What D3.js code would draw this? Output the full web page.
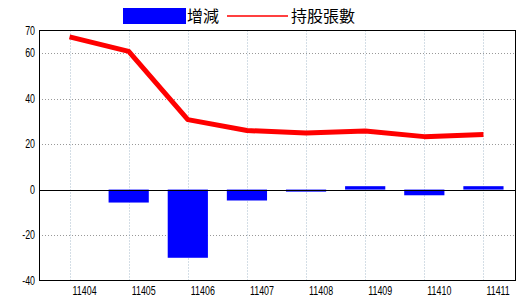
<!DOCTYPE html>
<html>
<head>
<meta charset="utf-8">
<script src="https://cdn.jsdelivr.net/npm/d3@7"></script>
<style>
  body { margin: 0; background: #fff; }
  svg { display: block; }
  .tick-label { font-family: "Liberation Sans", Arial, sans-serif; font-size: 12px; fill: #000; }
  .legend-text { font-family: "Noto Sans CJK TC", "Noto Sans CJK SC", sans-serif; font-size: 16px; fill: #000; }
</style>
</head>
<body>
<svg width="520" height="300"></svg>
<script>
// data
var months = ["11404", "11405", "11406", "11407", "11408", "11409", "11410", "11411"];
var change = [0, -5.7, -30, -4.8, -0.9, 1.5, -2.5, 1.5];      // 增減
var holdings = [67.2, 60.8, 30.8, 26, 24.9, 25.8, 23.3, 24.2]; // 持股張數
var yTicks = [70, 60, 40, 20, 0, -20, -40];

var svg = d3.select("svg");
var plotL = 39, plotR = 515, plotT = 30.5, plotB = 280.5;
var narrow = 0.74; // the original uses a condensed font

var x = d3.scaleBand().domain(months).range([40, 513]).padding(0);
var y = d3.scaleLinear().domain([-40, 70]).range([plotB, plotT]);
var cx = function (d) { return x(d) + x.bandwidth() / 2; };
var barW = x.bandwidth() * 0.68;

// grid
var grid = svg.append("g");
grid.selectAll("line.h")
  .data(yTicks.filter(function (v) { return v !== 0 && v !== 70 && v !== -40; }))
  .enter().append("line")
  .attr("x1", plotL).attr("x2", plotR)
  .attr("y1", function (d) { return Math.round(y(d)) + 0.5; })
  .attr("y2", function (d) { return Math.round(y(d)) + 0.5; })
  .attr("stroke", "#999").attr("stroke-dasharray", "1,2");
grid.selectAll("line.v")
  .data(months)
  .enter().append("line")
  .attr("x1", function (d) { return Math.round(cx(d)) + 0.5; })
  .attr("x2", function (d) { return Math.round(cx(d)) + 0.5; })
  .attr("y1", plotT).attr("y2", plotB)
  .attr("stroke", "#a8bccc").attr("stroke-dasharray", "1,2");

// bars
svg.append("g").selectAll("rect")
  .data(change)
  .enter().append("rect")
  .attr("x", function (d, i) { return cx(months[i]) - barW / 2; })
  .attr("width", barW)
  .attr("y", function (d) { return y(Math.max(0, d)); })
  .attr("height", function (d) { return Math.abs(y(d) - y(0)); })
  .attr("fill", "#0000ff");

// zero line
svg.append("line")
  .attr("x1", plotL).attr("x2", plotR)
  .attr("y1", Math.round(y(0)) + 0.5).attr("y2", Math.round(y(0)) + 0.5)
  .attr("stroke", "#000");

// holdings line
var line = d3.line()
  .x(function (d, i) { return cx(months[i]); })
  .y(function (d) { return y(d); });
svg.append("path")
  .datum(holdings)
  .attr("d", line)
  .attr("fill", "none")
  .attr("stroke", "#ff0000")
  .attr("stroke-width", 5)
  .attr("stroke-linejoin", "round");

// frame
svg.append("rect")
  .attr("x", plotL + 0.5).attr("y", Math.round(plotT) - 0.5)
  .attr("width", plotR - plotL).attr("height", Math.round(plotB) - Math.round(plotT))
  .attr("fill", "none").attr("stroke", "#000");

// y labels
svg.append("g").selectAll("text")
  .data(yTicks)
  .enter().append("text")
  .attr("class", "tick-label")
  .attr("transform", function (d) { return "translate(35," + (y(d) + 4) + ") scale(" + narrow + ",1)"; })
  .attr("text-anchor", "end")
  .text(function (d) { return d; });

// x labels
svg.append("g").selectAll("text")
  .data(months)
  .enter().append("text")
  .attr("class", "tick-label")
  .attr("transform", function (d) { return "translate(" + (cx(d) + 3) + ",294.5) scale(" + narrow + ",1)"; })
  .text(function (d) { return d; });

// legend
var lg = svg.append("g");
lg.append("rect").attr("x", 123).attr("y", 8).attr("width", 63).attr("height", 16).attr("fill", "#0000ff");
lg.append("text").attr("class", "legend-text").attr("x", 187).attr("y", 22).text("增減");
lg.append("line").attr("x1", 227).attr("x2", 288).attr("y1", 16).attr("y2", 16)
  .attr("stroke", "#ff0000").attr("stroke-width", 1.5);
lg.append("text").attr("class", "legend-text").attr("x", 291).attr("y", 22).text("持股張數");
</script>
</body>
</html>
